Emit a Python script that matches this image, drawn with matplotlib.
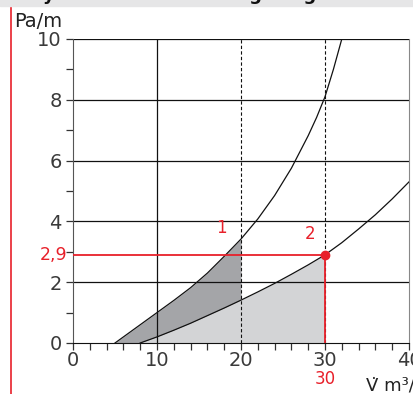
import matplotlib.pyplot as plt
import numpy as np

# pressure-drop curves, flow V (m3/h) vs pressure gradient (Pa/m)
v_steep = [5, 8, 10, 12, 14, 16, 18, 20, 22, 24, 26, 28, 29, 30, 31, 32]
p_steep = [0, 0.6, 1.0, 1.4, 1.82, 2.3, 2.85, 3.42, 4.08, 4.85, 5.75, 6.82, 7.42, 8.1, 9.0, 10.0]

v_flat = [8, 10, 12, 14, 16, 18, 20, 22, 24, 26, 28, 30, 32, 34, 36, 38, 40]
p_flat = [0, 0.2, 0.42, 0.65, 0.9, 1.15, 1.41, 1.68, 1.96, 2.26, 2.57, 2.9, 3.3, 3.75, 4.22, 4.74, 5.3]

op_flow = 30
op_press = 2.9
v_marks = [20, 30]
point_labels = [("1", 17.7, 3.5), ("2", 28.2, 3.3)]

RED = "#e8202a"
TXT = "#3a3a3a"

fig = plt.figure(figsize=(4.13, 3.94), dpi=100)
ax = fig.add_axes([73 / 413, 1 - 343 / 394, 336 / 413, 304 / 394])

# shaded areas
v1 = np.array(v_steep, float)
p1 = np.array(p_steep, float)
v2 = np.array(v_flat, float)
p2 = np.array(p_flat, float)

m1 = v1 <= 20
base = np.interp(v1[m1], v2, p2, left=0)
ax.fill_between(v1[m1], base, p1[m1], color="#a4a5a8", lw=0, zorder=1)
m2 = v2 <= op_flow
ax.fill_between(v2[m2], 0, p2[m2], color="#d3d4d6", lw=0, zorder=1)

# grid
for y in [2, 4, 6, 8, 10]:
    ax.axhline(y, color="#111111", lw=0.9, zorder=2)
ax.axvline(10, color="#111111", lw=0.9, zorder=2)
for v in v_marks:
    ax.plot([v, v], [0, 10], color="#111111", lw=0.8, dashes=(3, 2), zorder=2)

ax.plot(v1, p1, color="#111111", lw=0.9, zorder=3)
ax.plot(v2, p2, color="#111111", lw=0.9, zorder=3)

# operating point
ax.plot([0, op_flow], [op_press, op_press], color=RED, lw=1.3, zorder=4)
ax.plot([op_flow, op_flow], [0, op_press], color=RED, lw=1.3, zorder=4)
ax.plot([op_flow], [op_press], "o", color=RED, ms=6, zorder=5)
for txt, x, y in point_labels:
    ax.text(x, y, txt, color=RED, fontsize=12, ha="center", va="bottom")

ax.set_xlim(0, 40)
ax.set_ylim(0, 10)
ax.set_xticks([0, 10, 20, 30, 40])
ax.set_xticks(np.arange(0, 41, 2), minor=True)
ax.set_yticks([0, 2, 4, 6, 8, 10])
ax.set_yticks([1, 3, 5, 7, 9], minor=True)
ax.tick_params(which="both", direction="out", length=5, width=0.9, color="#333333",
               labelsize=14, labelcolor=TXT, pad=3)
ax.tick_params(axis="x", which="major", pad=1)

ax.spines["top"].set_visible(False)
ax.spines["right"].set_color("#888888")
ax.spines["left"].set_color("#555555")
ax.spines["bottom"].set_color("#111111")

# red value labels on the axes
ax.text(-0.7, op_press, "2,9", color=RED, fontsize=12.5, ha="right", va="center")
ax.text(op_flow, -1.2, "30", color=RED, fontsize=12, ha="center", va="center")

# axis titles
fig.text(14 / 413, 1 - 27 / 394, "Pa/m", fontsize=14, color="#222222")
fig.text(366 / 413, 1 - 391 / 394, "V\u0307 m\u00b3/h", fontsize=13, color="#222222")

# header band and left rule
fig.patches.append(plt.Rectangle((0, 1 - 6 / 394), 1, 6 / 394, transform=fig.transFigure,
                                 color="#e6e6e7", zorder=0))
fig.text(28 / 413, 1 + 0.5 / 394, "Hydraulischer Leistungsdiagramm Rohrpumpe",
         fontsize=13, fontweight="bold", color="#111111", va="baseline")
fig.add_artist(plt.Line2D([10.5 / 413, 10.5 / 413], [0, 1 - 8 / 394],
                          transform=fig.transFigure, color=RED, lw=1.2))

fig.savefig("out.png", dpi=100)
